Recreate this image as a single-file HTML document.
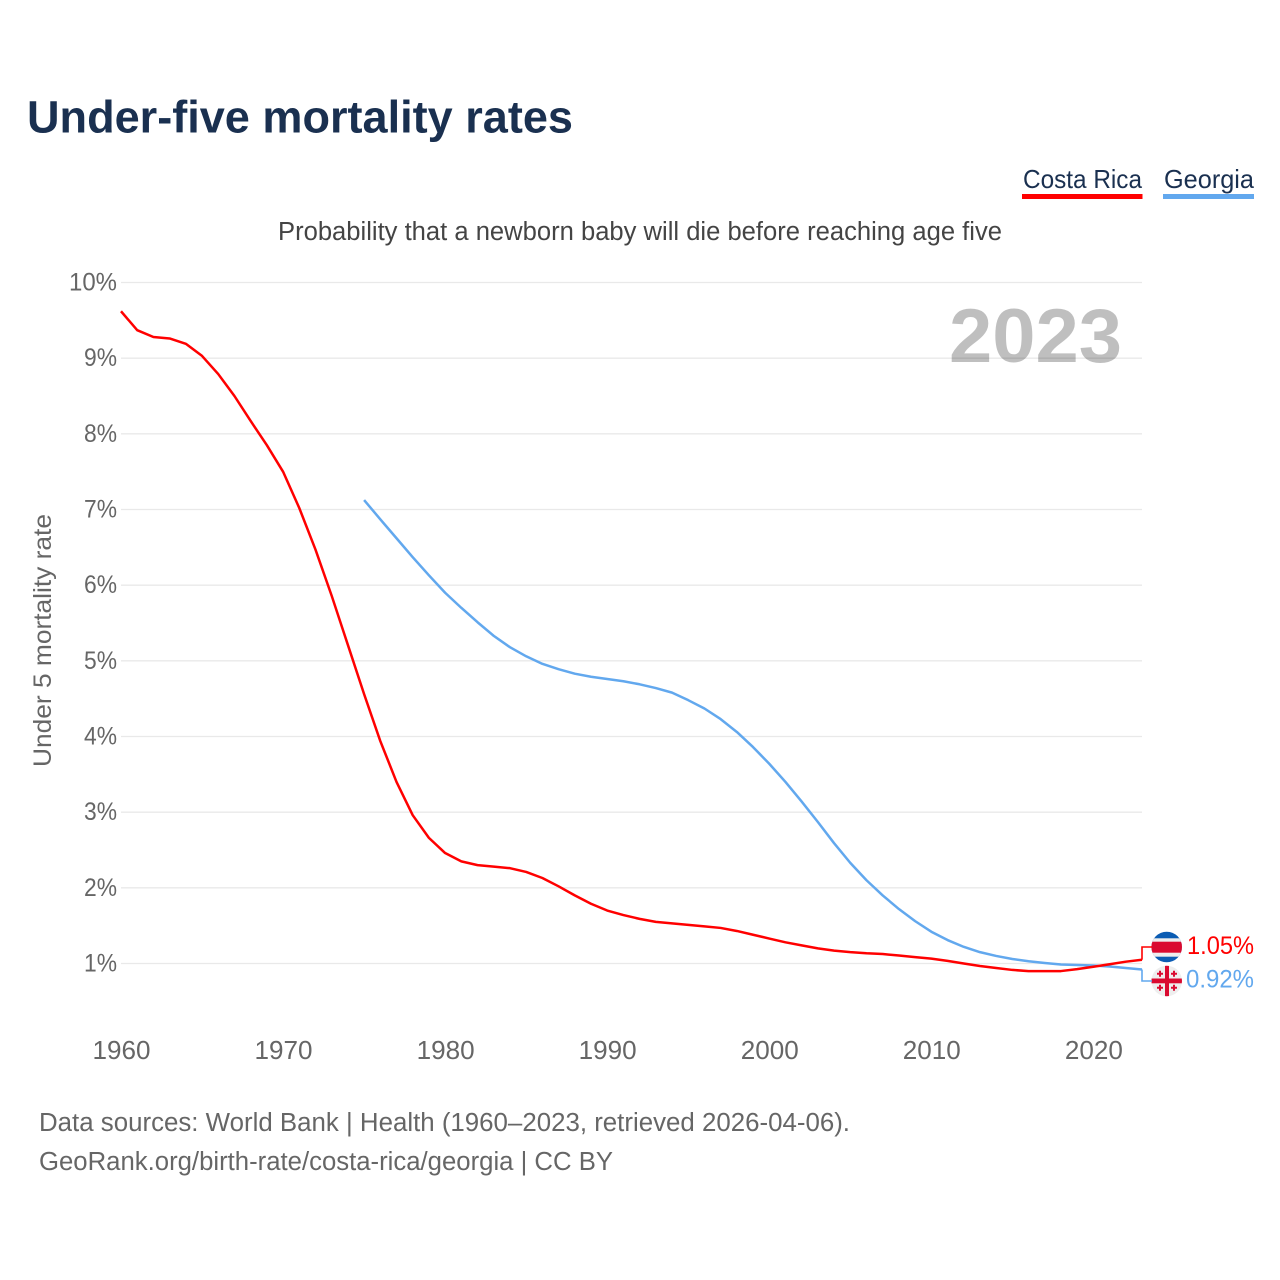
<!DOCTYPE html>
<html lang="en">
<head>
<meta charset="utf-8">
<title>Under-five mortality rates</title>
<style>
html,body{margin:0;padding:0;background:#fff;}
svg{display:block;font-family:"Liberation Sans",sans-serif;}
</style>
</head>
<body>
<svg id="chart" xmlns="http://www.w3.org/2000/svg" width="1280" height="1280" viewBox="0 0 1280 1280">
  <rect x="0" y="0" width="1280" height="1280" fill="#fff"/>
  <text x="27" y="132.500" font-size="45" font-weight="700" fill="#1a3050" textLength="546" lengthAdjust="spacingAndGlyphs">Under-five mortality rates</text>

  <g>
    <text x="1023" y="188" font-size="26" fill="#1a3050" textLength="119" lengthAdjust="spacingAndGlyphs">Costa Rica</text>
    <rect x="1022" y="194" width="120.500" height="5" fill="#ff0000"/>
  </g>
  <g>
    <text x="1164" y="188" font-size="26" fill="#1a3050" textLength="90" lengthAdjust="spacingAndGlyphs">Georgia</text>
    <rect x="1163" y="194" width="91" height="5" fill="#62a8ee"/>
  </g>

  <text x="278" y="240" font-size="25.500" fill="#444" textLength="724" lengthAdjust="spacingAndGlyphs">Probability that a newborn baby will die before reaching age five</text>

  <g id="grid"></g>
  <g id="yticks"></g>
  <g id="xticks"></g>

  <text transform="translate(51,767) rotate(-90)" x="0" y="0" font-size="25" fill="#666" textLength="253" lengthAdjust="spacingAndGlyphs">Under 5 mortality rate</text>

  <text x="949" y="362" font-size="76" font-weight="700" fill="#000" fill-opacity="0.25" textLength="173" lengthAdjust="spacingAndGlyphs">2023</text>

  <g id="series"></g>

  <defs>
    <clipPath id="clip-cr"><circle cx="1166.700" cy="947" r="15.300"/></clipPath>
    <clipPath id="clip-ge"><circle cx="1166.700" cy="981" r="15.300"/></clipPath>
  </defs>

  <g clip-path="url(#clip-cr)">
    <rect x="1150" y="931" width="34" height="32" fill="#0b5cb3"/>
    <rect x="1150" y="938.300" width="34" height="18.400" fill="#eeeeee"/>
    <rect x="1150" y="941.700" width="34" height="11" fill="#da0a30"/>
  </g>
  <g clip-path="url(#clip-ge)">
    <rect x="1150" y="964" width="34" height="34" fill="#eeeeee"/>
    <rect x="1165" y="964" width="4" height="34" fill="#da0a30"/>
    <rect x="1150" y="978.500" width="34" height="4.800" fill="#da0a30"/>
    <path d="M1159 970.700h2v2h2v2h-2v2h-2v-2h-2v-2h2z" fill="#da0a30"/>
    <path d="M1173 970.700h2v2h2v2h-2v2h-2v-2h-2v-2h2z" fill="#da0a30"/>
    <path d="M1159 984.700h2v2h2v2h-2v2h-2v-2h-2v-2h2z" fill="#da0a30"/>
    <path d="M1173 984.700h2v2h2v2h-2v2h-2v-2h-2v-2h2z" fill="#da0a30"/>
  </g>

  <g id="end-labels"></g>

  <text x="39" y="1131" font-size="25.500" fill="#666" textLength="811" lengthAdjust="spacingAndGlyphs">Data sources: World Bank | Health (1960–2023, retrieved 2026-04-06).</text>
  <text x="39" y="1170" font-size="25.500" fill="#666" textLength="574" lengthAdjust="spacingAndGlyphs">GeoRank.org/birth-rate/costa-rica/georgia | CC BY</text>
</svg>

<script>
const startYear = 1960;
const endYear = 2023;
const yTickValues = [1, 2, 3, 4, 5, 6, 7, 8, 9, 10];
const xTickYears = [1960, 1970, 1980, 1990, 2000, 2010, 2020];
const costaRicaStartYear = 1960;
const costaRicaValues = [
  9.62, 9.37, 9.28, 9.26, 9.19, 9.03, 8.79, 8.50, 8.17, 7.85,
  7.50, 7.02, 6.47, 5.86, 5.21, 4.56, 3.94, 3.40, 2.96, 2.66,
  2.46, 2.35, 2.30, 2.28, 2.26, 2.21, 2.13, 2.02, 1.90, 1.79,
  1.70, 1.64, 1.59, 1.55, 1.53, 1.51, 1.49, 1.47, 1.43, 1.38,
  1.33, 1.28, 1.24, 1.20, 1.17, 1.15, 1.135, 1.125, 1.105, 1.085,
  1.065, 1.035, 1.00, 0.967, 0.94, 0.915, 0.90, 0.90, 0.90, 0.925,
  0.957, 0.99, 1.024, 1.05
];
const georgiaStartYear = 1975;
const georgiaValues = [
  7.125, 6.87, 6.62, 6.37, 6.13,
  5.90, 5.70, 5.51, 5.33, 5.18, 5.06, 4.96, 4.89, 4.83, 4.79,
  4.76, 4.73, 4.69, 4.64, 4.58, 4.48, 4.37, 4.23, 4.06, 3.86,
  3.64, 3.40, 3.14, 2.87, 2.59, 2.33, 2.10, 1.90, 1.72, 1.56,
  1.42, 1.31, 1.22, 1.15, 1.10, 1.06, 1.03, 1.007, 0.987, 0.98,
  0.974, 0.96, 0.94, 0.92
];

const NS = 'http://www.w3.org/2000/svg';
const plotLeft = 121;
const plotRight = 1142;
const yAtOne = 963.5;
const yAtTen = 282.5;

function xScale(year) {
  return plotLeft + (year - startYear) * (plotRight - plotLeft) / (endYear - startYear);
}
function yScale(value) {
  return yAtOne + (value - 1) * (yAtTen - yAtOne) / 9;
}
function linePoints(values, firstYear) {
  return values.map(function (v, i) {
    return xScale(firstYear + i).toFixed(2) + ',' + yScale(v).toFixed(2);
  }).join(' ');
}

const gridGroup = document.getElementById('grid');
const yTickGroup = document.getElementById('yticks');
const xTickGroup = document.getElementById('xticks');
const seriesGroup = document.getElementById('series');
const endGroup = document.getElementById('end-labels');

yTickValues.forEach(function (v) {
  const line = document.createElementNS(NS, 'line');
  
  
  line.setAttribute('x1', plotLeft);
  line.setAttribute('x2', plotRight);
  line.setAttribute('y1', yScale(v));
  line.setAttribute('y2', yScale(v));
  line.setAttribute('stroke', '#e9e9e9');
  line.setAttribute('stroke-width', '1.3');
  gridGroup.appendChild(line);

  const label = document.createElementNS(NS, 'text');
  
  
  label.setAttribute('x', 117);
  label.setAttribute('y', yScale(v) + 8);
  label.setAttribute('text-anchor', 'end');
  label.setAttribute('font-size', '25');
  label.setAttribute('fill', '#666');
  label.setAttribute('textLength', v === 10 ? 48 : 33);
  label.setAttribute('lengthAdjust', 'spacingAndGlyphs');
  label.textContent = v + '%';
  yTickGroup.appendChild(label);
});

xTickYears.forEach(function (year) {
  const label = document.createElementNS(NS, 'text');
  
  
  label.setAttribute('x', xScale(year) + 0.5);
  label.setAttribute('y', 1059);
  label.setAttribute('text-anchor', 'middle');
  label.setAttribute('font-size', '25.5');
  label.setAttribute('fill', '#666');
  label.setAttribute('textLength', 58);
  label.setAttribute('lengthAdjust', 'spacingAndGlyphs');
  label.textContent = year;
  xTickGroup.appendChild(label);
});

const georgiaLine = document.createElementNS(NS, 'polyline');


georgiaLine.setAttribute('points', linePoints(georgiaValues, georgiaStartYear));
georgiaLine.setAttribute('fill', 'none');
georgiaLine.setAttribute('stroke', '#62a8ee');
georgiaLine.setAttribute('stroke-width', '2.5');
georgiaLine.setAttribute('stroke-linejoin', 'round');
seriesGroup.appendChild(georgiaLine);

const costaRicaLine = document.createElementNS(NS, 'polyline');


costaRicaLine.setAttribute('points', linePoints(costaRicaValues, costaRicaStartYear));
costaRicaLine.setAttribute('fill', 'none');
costaRicaLine.setAttribute('stroke', '#ff0000');
costaRicaLine.setAttribute('stroke-width', '2.5');
costaRicaLine.setAttribute('stroke-linejoin', 'round');
seriesGroup.appendChild(costaRicaLine);

const lastCostaRica = costaRicaValues[costaRicaValues.length - 1];
const lastGeorgia = georgiaValues[georgiaValues.length - 1];

const costaRicaConnector = document.createElementNS(NS, 'polyline');


costaRicaConnector.setAttribute('points', plotRight + ',' + yScale(lastCostaRica) + ' ' + plotRight + ',947 1152,947');
costaRicaConnector.setAttribute('fill', 'none');
costaRicaConnector.setAttribute('stroke', '#ff0000');
costaRicaConnector.setAttribute('stroke-width', '1.6');
endGroup.appendChild(costaRicaConnector);

const georgiaConnector = document.createElementNS(NS, 'polyline');


georgiaConnector.setAttribute('points', plotRight + ',' + yScale(lastGeorgia) + ' ' + plotRight + ',981 1152,981');
georgiaConnector.setAttribute('fill', 'none');
georgiaConnector.setAttribute('stroke', '#62a8ee');
georgiaConnector.setAttribute('stroke-width', '1.6');
endGroup.appendChild(georgiaConnector);

const costaRicaValueLabel = document.createElementNS(NS, 'text');


costaRicaValueLabel.setAttribute('x', 1187);
costaRicaValueLabel.setAttribute('y', 954);
costaRicaValueLabel.setAttribute('font-size', '25');
costaRicaValueLabel.setAttribute('fill', '#ff0000');
costaRicaValueLabel.setAttribute('textLength', 67);
costaRicaValueLabel.setAttribute('lengthAdjust', 'spacingAndGlyphs');
costaRicaValueLabel.textContent = lastCostaRica.toFixed(2) + '%';
endGroup.appendChild(costaRicaValueLabel);

const georgiaValueLabel = document.createElementNS(NS, 'text');


georgiaValueLabel.setAttribute('x', 1186);
georgiaValueLabel.setAttribute('y', 987.5);
georgiaValueLabel.setAttribute('font-size', '25');
georgiaValueLabel.setAttribute('fill', '#62a8ee');
georgiaValueLabel.setAttribute('textLength', 68);
georgiaValueLabel.setAttribute('lengthAdjust', 'spacingAndGlyphs');
georgiaValueLabel.textContent = lastGeorgia.toFixed(2) + '%';
endGroup.appendChild(georgiaValueLabel);
</script>
</body>
</html>
